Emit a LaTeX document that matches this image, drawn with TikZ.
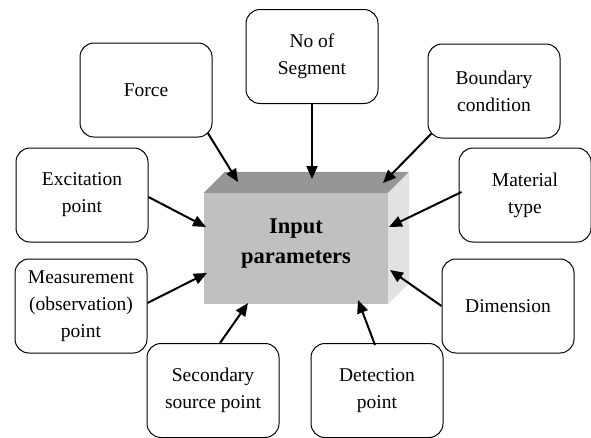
\documentclass[tikz,border=0pt]{standalone}
\usepackage{fontspec}
\setmainfont{Liberation Serif}
\usetikzlibrary{calc,arrows.meta,positioning}
\tikzset{font={\fontsize{19.5pt}{27pt}\selectfont}}
\tikzstyle{boite-param}=[draw,rounded corners=14pt,line width=1pt,align=center,minimum width=132pt,minimum height=94pt,inner sep=0pt]
\tikzstyle{fleche-param}=[line width=2pt,-{Triangle[length=13pt,width=11pt]}]
\definecolor{face}{HTML}{C0C0C0}
\definecolor{dessus}{HTML}{969696}
\definecolor{cote}{HTML}{E2E2E2}

\begin{document}
\begin{tikzpicture}[x=1pt,y=-1pt]
            \useasboundingbox (0,0) rectangle (591,437);
            % bloc central
            \node[fill=face, minimum width=184pt, minimum height=111pt, inner sep=0pt] (ip) at (296,248.5) {};
            \fill[dessus] (ip.north west) -- ++(21,-21) -- ($(ip.north east)+(21,-21)$) -- (ip.north east) -- cycle;
            \fill[cote] (ip.north east) -- ++(21,-21) -- ($(ip.south east)+(21,-21)$) -- (ip.south east) -- cycle;
            \node[font={\fontsize{22.5pt}{30pt}\selectfont\bfseries}, align=center] (ip-txt) at ($(ip)+(0,-5)$) {Input\\parameters};
            %
            \node[boite-param] (n-seg) at (312,56.5) {No of\\Segment};
            \node[boite-param] (n-force) at (146,90) {Force};
            \node[boite-param] (n-bound) at (494,91) {Boundary\\condition};
            \node[boite-param] (n-exc) at (82,195) {Excitation\\point};
            \node[boite-param] (n-mat) at (525,195) {Material\\type};
            \node[boite-param] (n-meas) at (81,306) {Measurement\\(observation)\\point};
            \node[boite-param] (n-dim) at (508,306) {Dimension};
            \node[boite-param] (n-sec) at (213,390.5) {Secondary\\source point};
            \node[boite-param] (n-det) at (377,390.5) {Detection\\point};
            %
            \coordinate (t-force) at (238,182);
            \coordinate (t-seg) at (312,179);
            \coordinate (t-bound) at (383,183);
            \coordinate (t-exc) at (206,227);
            \coordinate (t-mat) at (389,227);
            \coordinate (t-meas) at (207,273);
            \coordinate (t-dim) at (390,270);
            \coordinate (t-sec) at (248,303);
            \coordinate (t-det) at (358,300);
            %
            \draw[fleche-param] ($(n-force.south east)+(-5,-5)$) -- (t-force);
            \draw[fleche-param] (n-seg.south) -- (t-seg);
            \draw[fleche-param] ($(n-bound.south west)+(4,-5)$) -- (t-bound);
            \draw[fleche-param] ($(n-exc.east)+(0,2)$) -- (t-exc);
            \draw[fleche-param] ($(n-mat.west)+(3,-3)$) -- (t-mat);
            \draw[fleche-param] ($(n-meas.east)+(0,-3)$) -- (t-meas);
            \draw[fleche-param] (n-dim.west) -- (t-dim);
            \draw[fleche-param] ($(n-sec.north)+(7,0)$) -- (t-sec);
            \draw[fleche-param] ($(n-det.north)+(-2,2)$) -- (t-det);
        \end{tikzpicture}
\end{document}
